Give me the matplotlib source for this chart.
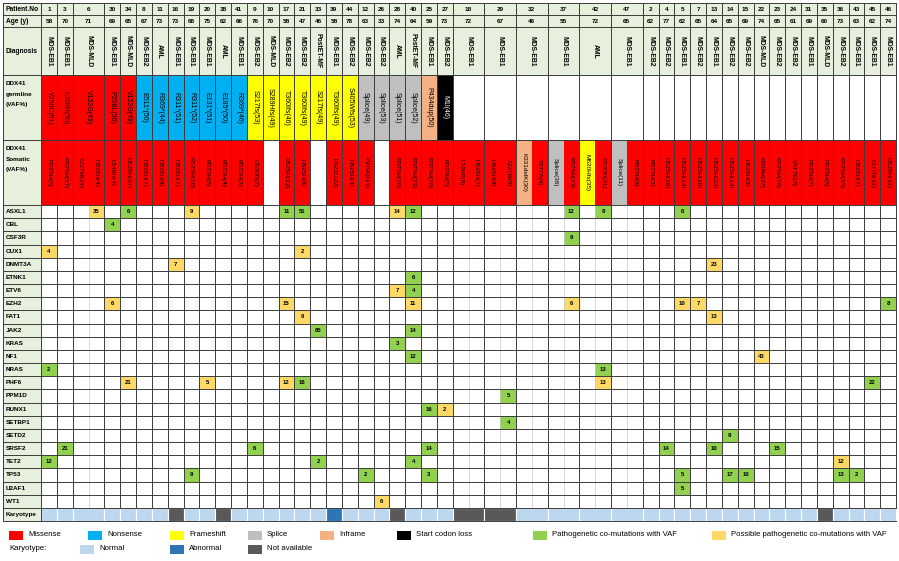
import numpy as np
import matplotlib
matplotlib.use('Agg')
import matplotlib.pyplot as plt
from matplotlib.patches import Rectangle

plt.rcParams['font.family'] = 'Liberation Sans'

# ---- data -------------------------------------------------------------
patients = [1, 3, 6, 30, 34, 8, 11, 16, 19, 20, 38, 41, 9, 10, 17, 21, 33, 39, 44, 12, 26, 28, 40, 25, 27,
            18, 29, 32, 37, 42, 47, 2, 4, 5, 7, 13, 14, 15, 22, 23, 24, 31, 35, 36, 43, 45, 46]
ages = [58, 70, 71, 69, 65, 67, 73, 73, 68, 75, 62, 66, 76, 70, 58, 47, 46, 58, 78, 63, 33, 74, 64, 59, 73,
        72, 67, 46, 55, 72, 65, 62, 77, 62, 65, 64, 65, 69, 74, 65, 61, 69, 60, 73, 63, 62, 74]
diagnosis = ['MDS-EB1', 'MDS-EB1', 'MDS-MLD', 'MDS-EB1', 'MDS-MLD', 'MDS-EB2', 'AML', 'MDS-EB1', 'MDS-EB1',
             'MDS-EB1', 'AML', 'MDS-EB1', 'MDS-EB2', 'MDS-MLD', 'MDS-EB2', 'MDS-EB2', 'PostET-MF', 'MDS-EB1',
             'MDS-EB2', 'MDS-EB2', 'MDS-EB2', 'AML', 'PostET-MF', 'MDS-EB1', 'MDS-EB2', 'MDS-EB1', 'MDS-EB1',
             'MDS-EB1', 'MDS-EB1', 'AML', 'MDS-EB1', 'MDS-EB2', 'MDS-EB2', 'MDS-EB1', 'MDS-EB2', 'MDS-EB1',
             'MDS-EB2', 'MDS-EB2', 'MDS-MLD', 'MDS-EB2', 'MDS-EB2', 'MDS-EB1', 'MDS-MLD', 'MDS-EB2', 'MDS-EB1',
             'MDS-EB1', 'MDS-EB1']

germline = [('Y259C(51)', 'Missense'), ('L328R(50)', 'Missense'), ('V152G(49)', 'Missense'),
            ('P258L(50)', 'Missense'), ('V152G(49)', 'Missense'), ('E511*(50)', 'Nonsense'),
            ('R369*(44)', 'Nonsense'), ('R311*(51)', 'Nonsense'), ('R311*(52)', 'Nonsense'),
            ('E131*(51)', 'Nonsense'), ('E185*(50)', 'Nonsense'), ('R369*(46)', 'Nonsense'),
            ('S217fs(53)', 'Frameshift'), ('S289Hfs(49)', 'Frameshift'), ('T360Ifs(46)', 'Frameshift'),
            ('T360Ifs(49)', 'Frameshift'), ('S217fs(49)', 'Frameshift'), ('T360Ifs(49)', 'Frameshift'),
            ('S405Wfs(53)', 'Frameshift'), ('Splice(49)', 'Splice'), ('Splice(53)', 'Splice'),
            ('Splice(51)', 'Splice'), ('Splice(52)', 'Splice'), ('P434dup(50)', 'Inframe'),
            ('M1I(46)', 'Start codon loss')] + [None] * 22

M = 'Missense'
somatic = [[('R525H(8)', M)], [('R525H(17)', M)], [('T227M(24)', M), ('R525H(4)', M)], [('L548H(4)', M)],
           [('R525H(37)', M)], [('R525H(7)', M)], [('R525H(8)', M)], [('R525H(7)', M)], [('R525H(10)', M)],
           [('R525H(8)', M)], [('R525H(4)', M)], [('R525H(3)', M)], [('G530D(7)', M)], [],
           [('R525H(13)', M)], [('R525H(8)', M)], [], [('P321L(22)', M)], [('R525H(4)', M)],
           [('P379Q(14)', M)], [], [('R525H(16)', M)], [('R525H(23)', M)], [('R525H(16)', M)],
           [('R525H(5)', M)], [('L196P(9)', M), ('R525H(7)', M)], [('R525H(8)', M), ('T227M(5)', M)],
           [('K331delK(30)', 'Inframe'), ('T377A(4)', M)], [('Splice(36)', 'Splice'), ('R525H(13)', M)],
           [('M620Hfs(35)', 'Frameshift'), ('G530D(31)', M)], [('Splice(11)', 'Splice'), ('R525H(9)', M)],
           [('R525H(3)', M)], [('R525H(16)', M)], [('R525H(14)', M)], [('R525H(19)', M)], [('R525H(23)', M)],
           [('R525H(14)', M)], [('R525H(5)', M)], [('R339H(37)', M)], [('R525H(16)', M)], [('V517E(7)', M)],
           [('R525H(7)', M)], [('R525H(8)', M)], [('R525H(15)', M)], [('R525H(7)', M)], [('T377N(11)', M)],
           [('R525H(11)', M)]]

genes = ['ASXL1', 'CBL', 'CSF3R', 'CUX1', 'DNMT3A', 'ETNK1', 'ETV6', 'EZH2', 'FAT1', 'JAK2', 'KRAS', 'NF1',
         'NRAS', 'PHF6', 'PPM1D', 'RUNX1', 'SETBP1', 'SETD2', 'SRSF2', 'TET2', 'TP53', 'U2AF1', 'WT1']

# (patient, sub-column, VAF, 'P' pathogenetic / 'PP' possible pathogenetic)
comutations = {
    'ASXL1': [(6, 1, 35, 'PP'), (34, 0, 6, 'P'), (19, 0, 9, 'PP'), (17, 0, 11, 'P'), (21, 0, 51, 'P'),
              (28, 0, 14, 'PP'), (40, 0, 12, 'P'), (37, 1, 12, 'P'), (42, 1, 8, 'P'), (5, 0, 6, 'P')],
    'CBL': [(30, 0, 4, 'P')],
    'CSF3R': [(37, 1, 9, 'P')],
    'CUX1': [(1, 0, 4, 'PP'), (21, 0, 2, 'PP')],
    'DNMT3A': [(16, 0, 7, 'PP'), (13, 0, 23, 'PP')],
    'ETNK1': [(40, 0, 6, 'P')],
    'ETV6': [(28, 0, 7, 'PP'), (40, 0, 4, 'P')],
    'EZH2': [(30, 0, 6, 'PP'), (17, 0, 15, 'PP'), (40, 0, 11, 'PP'), (37, 1, 6, 'PP'), (5, 0, 10, 'PP'),
             (7, 0, 7, 'PP'), (46, 0, 8, 'P')],
    'FAT1': [(21, 0, 9, 'PP'), (13, 0, 13, 'PP')],
    'JAK2': [(33, 0, 65, 'P'), (40, 0, 14, 'P')],
    'KRAS': [(28, 0, 3, 'P')],
    'NF1': [(40, 0, 12, 'P'), (22, 0, 43, 'PP')],
    'NRAS': [(1, 0, 2, 'P'), (42, 1, 13, 'P')],
    'PHF6': [(34, 0, 21, 'PP'), (20, 0, 5, 'PP'), (17, 0, 12, 'PP'), (21, 0, 16, 'P'), (42, 1, 13, 'PP'),
             (45, 0, 22, 'P')],
    'PPM1D': [(29, 1, 5, 'P')],
    'RUNX1': [(25, 0, 16, 'P'), (27, 0, 2, 'PP')],
    'SETBP1': [(29, 1, 4, 'P')],
    'SETD2': [(14, 0, 8, 'P')],
    'SRSF2': [(3, 0, 21, 'P'), (9, 0, 6, 'P'), (25, 0, 14, 'P'), (4, 0, 14, 'P'), (13, 0, 10, 'P'),
              (23, 0, 15, 'P')],
    'TET2': [(1, 0, 12, 'P'), (33, 0, 2, 'P'), (40, 0, 4, 'P'), (36, 0, 12, 'PP')],
    'TP53': [(19, 0, 9, 'P'), (12, 0, 2, 'P'), (25, 0, 3, 'P'), (5, 0, 5, 'P'), (14, 0, 17, 'P'),
             (15, 0, 10, 'P'), (36, 0, 13, 'P'), (43, 0, 2, 'P')],
    'U2AF1': [(5, 0, 5, 'P')],
    'WT1': [(26, 0, 6, 'PP')],
}

karyotype_na = [16, 38, 28, 18, 29, 35]
karyotype_abnormal = [39]

# ---- styles -------------------------------------------------------------
mut_colors = {'Missense': '#FF0000', 'Nonsense': '#00B0F0', 'Frameshift': '#FFFF00', 'Splice': '#BFBFBF',
              'Inframe': '#F4B183', 'Start codon loss': '#000000'}
co_colors = {'P': '#92D050', 'PP': '#FFD966'}
kary_colors = {'Normal': '#BDD7EE', 'Abnormal': '#2E75B6', 'Not available': '#595959'}
head_bg = '#E6F0DC'
line_c = '#3C3C3C'

# ---- layout -------------------------------------------------------------
W, H = 899, 561
XL, X0, X1 = 3, 41, 896
widths = [max(1, len(s)) for s in somatic]
uw = (X1 - X0) / sum(widths)
starts = X0 + uw * np.concatenate([[0], np.cumsum(widths)[:-1]])
col_of = {p: i for i, p in enumerate(patients)}

head_rows = [('Patient.No', 3, 15), ('Age (y)', 15, 27), ('Diagnosis', 27, 75),
             ('DDX41\ngermline\n(VAF%)', 75, 140), ('DDX41\nSomatic\n(VAF%)', 140, 205)]
G0, G1 = 205, 521
rh = (G1 - G0) / (len(genes) + 1)

fig = plt.figure(figsize=(W / 100, H / 100), dpi=100)
ax = fig.add_axes([0, 0, 1, 1])
ax.set_xlim(0, W)
ax.set_ylim(H, 0)
ax.axis('off')


def cell(x, y, w, h, fc, ec='none', lw=0.0, z=1):
    ax.add_patch(Rectangle((x, y), w, h, facecolor=fc, edgecolor=ec, linewidth=lw, zorder=z))


# header background
cell(XL, 3, X1 - XL, 72, head_bg)
cell(XL, 75, X0 - XL, G1 - 75, head_bg)

for i, p in enumerate(patients):
    x, w = starts[i], widths[i] * uw
    xc = x + w / 2
    ax.text(xc, 9, str(p), ha='center', va='center', fontsize=4.6, fontweight='bold')
    ax.text(xc, 21, str(ages[i]), ha='center', va='center', fontsize=4.6, fontweight='bold')
    ax.text(xc, 51, diagnosis[i], ha='center', va='center', rotation=-90, fontsize=4.9, fontweight='bold')
    g = germline[i]
    if g is not None:
        cell(x, 75, w, 65, mut_colors[g[1]])
        tc = 'white' if g[1] == 'Start codon loss' else 'black'
        ax.text(xc, 107.5, g[0], ha='center', va='center', rotation=-90, fontsize=5, color=tc, zorder=3)
    for k, (lab, kind) in enumerate(somatic[i]):
        sx = x + k * uw
        cell(sx, 140, uw, 65, mut_colors[kind])
        ax.text(sx + uw / 2, 172.5, lab, ha='center', va='center', rotation=-90, fontsize=4.6, zorder=3)
    # karyotype
    if p in karyotype_na:
        kc = kary_colors['Not available']
    elif p in karyotype_abnormal:
        kc = kary_colors['Abnormal']
    else:
        kc = kary_colors['Normal']
    cell(x, G1 - rh, w, rh, kc, ec='white', lw=0.8, z=2)

# co-mutation cells
for r, gname in enumerate(genes):
    y = G0 + r * rh
    for p, sub, vaf, kind in comutations[gname]:
        x = starts[col_of[p]] + sub * uw
        cell(x, y, uw, rh, co_colors[kind])
        ax.text(x + uw / 2, y + rh / 2, str(vaf), ha='center', va='center', fontsize=4.3,
                fontweight='bold', zorder=3)

# labels of the first column
for lab, y0, y1 in head_rows:
    if '\n' in lab:
        ax.text(6, y0 + 19, lab, ha='left', va='center', fontsize=4.6, fontweight='bold', linespacing=2.3)
    else:
        ax.text(6, (y0 + y1) / 2, lab, ha='left', va='center', fontsize=4.8, fontweight='bold')
for r, gname in enumerate(genes + ['Karyotype']):
    ax.text(6, G0 + (r + 0.5) * rh, gname, ha='left', va='center', fontsize=4.6, fontweight='bold')

# grid lines
lkw = dict(color=line_c, linewidth=0.7, zorder=4)
for _, y0, y1 in head_rows:
    ax.plot([XL, X1], [y0, y0], **lkw)
for r in range(len(genes) + 2):
    ax.plot([XL, X1], [G0 + r * rh, G0 + r * rh], **lkw)
ax.plot([XL, XL], [3, G1], **lkw)
ax.plot([X0, X0], [3, G1], **lkw)
for i in range(len(patients)):
    xr = starts[i] + widths[i] * uw
    ax.plot([xr, xr], [3, G1 - rh], **lkw)
    for k in range(1, widths[i]):
        xs = starts[i] + k * uw
        ax.plot([xs, xs], [G0, G1 - rh], color='#C8C8C8', linewidth=0.5, zorder=3)

# legend
fs = 5.6
ly1, ly2 = 535, 549
items1 = [('Missense', mut_colors['Missense'], 9), ('Nonsense', mut_colors['Nonsense'], 88),
          ('Frameshift', mut_colors['Frameshift'], 170), ('Splice', mut_colors['Splice'], 248),
          ('Inframe', mut_colors['Inframe'], 320), ('Start codon loss', mut_colors['Start codon loss'], 397),
          ('Pathogenetic co-mutations with VAF', co_colors['P'], 533),
          ('Possible pathogenetic co-mutations with VAF', co_colors['PP'], 712)]
for lab, c, x in items1:
    cell(x, ly1 - 4.5, 14, 9, c)
    ax.text(x + 19, ly1, lab, ha='left', va='center', fontsize=fs)
ax.text(9, ly2, 'Karyotype:', ha='left', va='center', fontsize=fs)
for lab, x in [('Normal', 80), ('Abnormal', 170), ('Not available', 248)]:
    cell(x, ly2 - 4.5, 14, 9, kary_colors[lab])
    ax.text(x + 19, ly2, lab, ha='left', va='center', fontsize=fs)

fig.savefig('out.png', dpi=100, facecolor='white')
